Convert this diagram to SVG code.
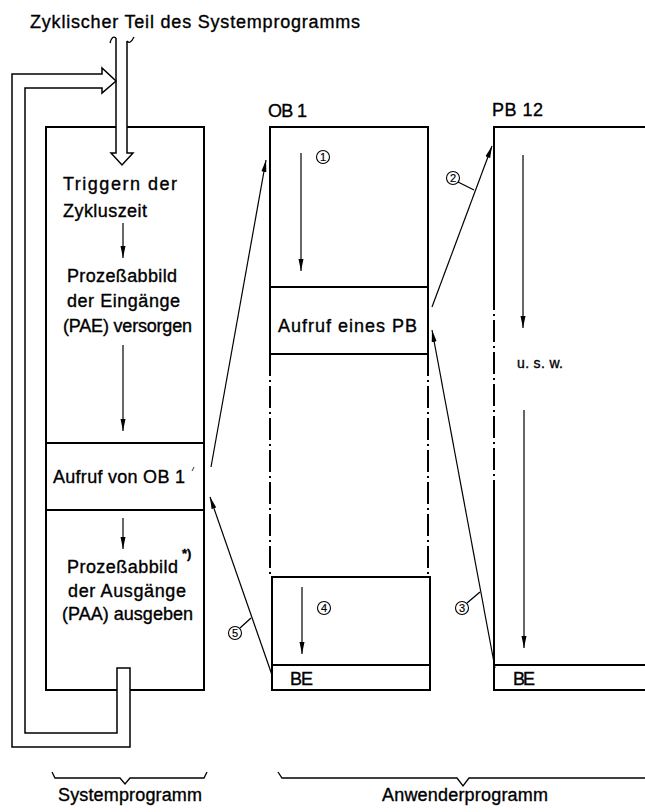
<svg xmlns="http://www.w3.org/2000/svg" width="645" height="812" viewBox="0 0 645 812">
<style>
text{font-family:"Liberation Sans",Arial,sans-serif;fill:#000;stroke:#000;stroke-width:0.35}
.t{font-size:18px}
.s{font-size:14px}
.n{font-size:11px;text-anchor:middle;stroke-width:0.2}
.box{fill:none;stroke:#000;stroke-width:2}
.th{fill:none;stroke:#000;stroke-width:1.3}
.hol{fill:#fff;stroke:#000;stroke-width:1.5;stroke-linejoin:miter}
.dd{fill:none;stroke:#000;stroke-width:2;stroke-dasharray:22 4 2 4}
.ar{fill:none;stroke:#000;stroke-width:1.2;marker-end:url(#ah)}
.num{fill:#fff;stroke:#000;stroke-width:1.1}
</style>
<defs>
<marker id="ah" viewBox="0 0 12 6" refX="12" refY="3" markerWidth="12" markerHeight="6" markerUnits="userSpaceOnUse" orient="auto">
<path d="M0,0.5 L12,3 L0,5.5 Z" fill="#000"/>
</marker>
</defs>
<rect width="645" height="812" fill="#fff"/>
<text class="t" x="30" y="28" font-size="19" textLength="330">Zyklischer Teil des Systemprogramms</text>

<g id="systemprogramm">
<path class="box" d="M46,127 H204 V690 H46 Z M46,443 H204 M46,510 H204"/>
<text class="t" x="63" y="190" textLength="114">Triggern der</text>
<text class="t" x="63" y="217" textLength="84">Zykluszeit</text>
<line class="ar" x1="123" y1="223" x2="123" y2="258"/>
<text class="t" x="67" y="282" textLength="110">Prozeßabbild</text>
<text class="t" x="67" y="307" textLength="113">der Eingänge</text>
<text class="t" x="63" y="332" textLength="129">(PAE) versorgen</text>
<line class="ar" x1="123" y1="345" x2="123" y2="431"/>
<text class="t" x="53" y="483" textLength="132">Aufruf von OB 1</text>
<line x1="192" y1="471" x2="194" y2="467" stroke="#000" stroke-width="0.8"/>
<line class="ar" x1="123" y1="518" x2="123" y2="549"/>
<text class="t" x="67" y="573" textLength="111">Prozeßabbild</text>
<text x="182" y="558" font-size="13" font-weight="bold">*)</text>
<text class="t" x="68" y="597" textLength="118">der Ausgänge</text>
<text class="t" x="62" y="620" textLength="131">(PAA) ausgeben</text>
</g>

<g id="zyklus-pfeil">
<path class="hol" d="M116,38 V153 H111 L122,165 L133,153 H127 V41"/>
<path class="th" d="M110,43 Q112,35 116,38 M127,41 Q130,45 134,37"/>
<path class="hol" d="M130,668 V747 H12 V74 H102 V68 L116,81 L102,93 V88 H25 V733 H117 V668 Z"/>
</g>

<g id="ob1">
<text class="t" x="268" y="117" textLength="39">OB 1</text>
<path class="box" d="M270,354 V127 H428 V354 Z M270,287 H428"/>
<path class="dd" d="M270,354 V574 M428,354 V574"/>
<text class="t" x="278" y="332" textLength="139">Aufruf eines PB</text>
<line class="ar" x1="301" y1="153" x2="301" y2="271"/>
<path class="box" d="M272,577 H430 V690 H272 Z M272,665 H430"/>
<line class="ar" x1="302" y1="587" x2="302" y2="654"/>
<text class="t" x="290" y="685" textLength="23">BE</text>
</g>

<g id="pb12">
<text class="t" x="492" y="116" textLength="51">PB 12</text>
<path class="box" d="M645,127 H494 V288 M494,495 V690 H645 M494,665 H645"/>
<path class="dd" d="M494,288 V495"/>
<line class="ar" x1="523" y1="155" x2="523" y2="328"/>
<text class="s" x="517" y="368" textLength="46">u. s. w.</text>
<line class="ar" x1="524" y1="410" x2="524" y2="648"/>
<text class="t" x="513" y="685" textLength="22">BE</text>
</g>

<g id="connectors">
<line class="ar" x1="211" y1="467" x2="266" y2="160"/>
<line class="ar" x1="432" y1="307" x2="492" y2="146"/>
<line class="ar" x1="495" y1="668" x2="432" y2="330"/>
<line class="ar" x1="272" y1="675" x2="210" y2="497"/>
<path class="th" d="M458,182 L474,190 M467,603 L480,592 M240,628 L251,618" stroke-width="1"/>
</g>

<g id="nummern">
<circle class="num" cx="323" cy="157" r="6.5"/><text class="n" x="323" y="161">1</text>
<circle class="num" cx="453" cy="178" r="6.5"/><text class="n" x="453" y="182">2</text>
<circle class="num" cx="462" cy="608" r="6.5"/><text class="n" x="462" y="612">3</text>
<circle class="num" cx="324" cy="608" r="6.5"/><text class="n" x="324" y="612">4</text>
<circle class="num" cx="235" cy="633" r="6.5"/><text class="n" x="235" y="637">5</text>
</g>

<g id="klammern">
<path class="th" d="M52,772 L55,778 H120 L125,784 L130,778 H204 L207,772"/>
<text class="t" x="58" y="801" textLength="144">Systemprogramm</text>
<path class="th" d="M278,772 L282,778 H457 L463,786 L469,778 H645"/>
<text class="t" x="382" y="801" textLength="166">Anwenderprogramm</text>
</g>
</svg>
